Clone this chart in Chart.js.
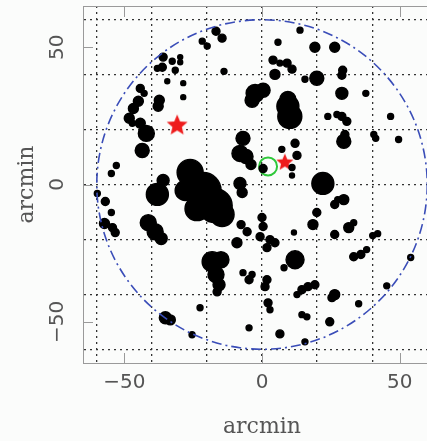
<!DOCTYPE html>
<html><head><meta charset="utf-8">
<script src="https://cdn.jsdelivr.net/npm/chart.js@4.4.0/dist/chart.umd.min.js"></script>
<style>
html,body{margin:0;padding:0;overflow:hidden;background:#fbfcfb;width:427px;height:441px}
#wrap{position:absolute;left:0;top:0;width:460px;height:441px}
</style>
</head><body><div id="wrap"><canvas id="c"></canvas></div>
<script>
// source positions (arcmin) and marker radii
const srcX = [-35.9,-32.6,-29.7,-29.7,-38.0,-36.2,-31.5,-34.4,-28.6,-28.6,-44.2,-42.8,-44.9,-37.3,-37.7,-46.7,-48.2,-47.1,-44.2,-42.0,-43.5,-52.9,-54.7,
 -16.7,-14.5,-21.7,-19.9,-13.8,5.8,13.8,19.2,26.4,4.0,6.5,9.1,10.9,4.7,15.6,19.9,29.3,29.0,29.0,37.7,29.0,30.8,23.9,27.2,46.7,29.7,30.1,40.6,41.3,49.6,
 -2.5,0.4,-3.6,9.4,9.4,10.1,-6.9,-8.0,-5.8,-4.0,0.4,7.2,12.0,12.7,10.9,10.9,22.1,-8.0,-7.2,
 -26.1,-21.4,-17.0,-14.5,-23.6,-27.9,-38.0,-35.9,
 -56.9,-59.8,-54.7,-57.2,-54.3,-53.3,-41.3,-38.8,-36.6,-7.6,-5.4,-9.1,
 -18.1,-14.9,-16.7,-15.6,-16.3,-6.9,-4.7,-3.6,-22.5,-25.4,-35.1,-33.3,-4.7,6.5,15.6,
 0.0,0.4,-0.7,2.9,4.7,1.8,11.6,12.0,8.0,1.8,1.1,14.5,16.7,19.2,12.7,26.4,25.4,2.2,2.9,14.5,16.3,24.6,
 26.4,27.5,19.9,18.5,26.4,29.7,31.5,33.3,40.2,42.0,33.3,35.9,38.0,54.0,45.3,35.1];
const srcY = [46.4,44.9,46.4,44.5,42.3,42.7,41.6,37.6,36.9,31.8,35.0,33.2,30.3,30.7,28.5,27.7,24.1,22.3,22.3,18.6,12.4,6.9,4.0,
 55.8,53.3,52.2,50.4,41.2,51.8,56.2,50.0,50.0,45.3,44.2,44.2,42.0,40.1,38.3,38.7,41.6,39.8,33.2,33.2,24.8,23.0,24.8,25.5,24.8,15.7,18.2,18.2,16.8,16.4,
 33.2,34.3,30.7,31.0,28.5,24.8,16.8,11.3,10.2,7.3,5.8,12.8,15.0,10.6,6.2,3.3,0.4,0.4,-2.9,
 4.4,-2.2,-7.7,-10.9,-8.8,-2.2,-3.6,1.5,
 -6.2,-3.3,-10.2,-14.2,-15.7,-17.5,-13.9,-17.2,-19.7,-14.6,-17.2,-21.2,
 -28.1,-27.4,-32.8,-36.5,-39.1,-32.1,-34.7,-32.8,-44.9,-54.7,-48.5,-49.3,-52.2,-54.4,-57.3,
 -12.0,-15.3,-19.0,-20.1,-21.2,-23.0,-17.5,-27.4,-30.3,-34.7,-37.2,-38.3,-37.2,-36.5,-40.1,-40.1,-41.2,-43.1,-45.6,-47.4,-48.2,-50.0,
 -7.3,-5.5,-10.2,-14.6,-18.2,-5.5,-15.7,-13.9,-18.6,-17.9,-26.3,-25.5,-23.7,-26.6,-36.9,-43.4];
const srcR = [4,3,2.5,2.5,3,4,3,2.5,2.5,2.5,4,3,5,5,5,5,5,3,5,8,7,3,3,
 4,4,3,3,3,3,3,5,5,4,3,4,4,5,3,7,4,4,6,3,4,4,3,3,3,7,4,3,3,3,
 9,7,7,8,11,12,7,8,7,5,4,3,4,4,3,2.5,11,6,5,
 13,18,17,12,12,10,11,6,
 4,3,3,5,4,4,8,8,6,4,4,5,
 10,8,8,6,4,3,4,3,3,3,6,5,3,4,3,
 4,4,4,4,4,4,2.5,9,3,4,4,4,4,4,3,5,4,4,3,3,3,4,
 4,3,4,5,4,5,5,3,3,3,4,4,3,3,3,3];
const starX = [-30.8, 8.3];
const starY = [21.5, 8.0];
const starSize = [11, 9];
const ringX = [2.2];
const ringY = [6.6];
const fieldRadius = 60;
const xTickLabels = [-50, 0, 50];
const yTickLabels = [-50, 0, 50];
const gridValues = [-60, -40, -20, 0, 20, 40, 60];

const FRAME = '#9a9a9a';
const TEXT = '#555';

function makeStar(R) {
  const c = document.createElement('canvas');
  c.width = c.height = Math.ceil(2 * R + 2);
  const g = c.getContext('2d');
  const cx = c.width / 2, cy = c.height / 2, r2 = R * 0.45;
  g.beginPath();
  for (let i = 0; i < 10; i++) {
    const a = -Math.PI / 2 + i * Math.PI / 5;
    const rr = i % 2 === 0 ? R : r2;
    g.lineTo(cx + rr * Math.cos(a), cy + rr * Math.sin(a));
  }
  g.closePath();
  g.fillStyle = '#ee1c1c';
  g.fill();
  return c;
}
const starImgs = starSize.map(makeStar);

function fmt(v) { return v < 0 ? '\u2212' + Math.abs(v) : String(v); }

const decor = {
  id: 'decor',
  afterDatasetDraw(chart, args) {
    if (args.index !== 0) return;
    const {ctx, scales: {x, y}, chartArea: a} = chart;
    const cx = x.getPixelForValue(0), cy = y.getPixelForValue(0);
    const rx = x.getPixelForValue(fieldRadius) - cx;
    const ry = cy - y.getPixelForValue(fieldRadius);
    ctx.save();
    ctx.beginPath();
    ctx.rect(a.left, a.top, a.right - a.left, a.bottom - a.top);
    ctx.clip();
    ctx.strokeStyle = '#3a4db8';
    ctx.lineWidth = 1.6;
    ctx.setLineDash([10, 4, 2, 4]);
    ctx.beginPath();
    ctx.ellipse(cx, cy, rx, ry, 0, 0, Math.PI * 2);
    ctx.stroke();
    ctx.restore();
  },
  afterDraw(chart) {
    const {ctx, scales: {x, y}, chartArea: a} = chart;
    ctx.save();
    ctx.strokeStyle = FRAME;
    ctx.lineWidth = 1;
    ctx.beginPath();
    ctx.moveTo(a.left, a.top + 0.5); ctx.lineTo(a.right, a.top + 0.5);
    ctx.moveTo(a.right - 0.5, a.top); ctx.lineTo(a.right - 0.5, a.bottom);
    xTickLabels.forEach(v => {
      const px = Math.round(x.getPixelForValue(v)) + 0.5;
      ctx.moveTo(px, a.top); ctx.lineTo(px, a.top + 11);
      ctx.moveTo(px, a.bottom); ctx.lineTo(px, a.bottom - 10);
    });
    yTickLabels.forEach(v => {
      const py = Math.round(y.getPixelForValue(v)) + 0.5;
      ctx.moveTo(a.left, py); ctx.lineTo(a.left + 10, py);
      ctx.moveTo(a.right, py); ctx.lineTo(a.right - 10, py);
    });
    ctx.stroke();
    ctx.fillStyle = TEXT;
    ctx.font = '20px "DejaVu Sans"';
    ctx.textAlign = 'center';
    ctx.textBaseline = 'middle';
    yTickLabels.forEach(v => {
      const py = y.getPixelForValue(v);
      ctx.save();
      ctx.translate(58, py);
      ctx.rotate(-Math.PI / 2);
      ctx.fillText(fmt(v), 0, 0);
      ctx.restore();
    });
    ctx.restore();
  }
};

new Chart(document.getElementById('c'), {
  type: 'bubble',
  data: {
    datasets: [
      {
        data: srcX.map((v, i) => ({x: v, y: srcY[i], r: srcR[i]})),
        backgroundColor: '#000', borderColor: '#000', borderWidth: 1.4, hoverRadius: 0
      },
      {
        type: 'scatter',
        data: starX.map((v, i) => ({x: v, y: starY[i]})),
        pointStyle: ctx => starImgs[ctx.dataIndex] || starImgs[0],
        pointRadius: 10
      },
      {
        type: 'scatter',
        data: ringX.map((v, i) => ({x: v, y: ringY[i]})),
        pointStyle: 'circle', pointRadius: 9,
        backgroundColor: 'rgba(0,0,0,0)', borderColor: '#2ec83a', borderWidth: 2
      }
    ]
  },
  options: {
    responsive: true, maintainAspectRatio: false, animation: false,
    events: [],
    layout: {autoPadding: false, padding: {top: 6, right: 19, left: 0, bottom: 0}},
    plugins: {legend: {display: false}, tooltip: {enabled: false}},
    scales: {
      x: {
        type: 'linear', min: -65, max: 65, position: 'bottom',
        afterBuildTicks: s => { s.ticks = [-60, -50, -40, -20, 0, 20, 40, 50, 60].map(v => ({value: v})); },
        afterFit: s => { s.height = 78; },
        grid: {color: c => gridValues.includes(c.tick && c.tick.value) ? '#333' : 'rgba(0,0,0,0)', lineWidth: 1.3, drawTicks: false},
        border: {display: true, color: FRAME, width: 1, dash: [2, 4]},
        ticks: {
          autoSkip: false, maxRotation: 0, padding: 8, color: TEXT,
          font: {family: 'DejaVu Sans', size: 20},
          callback: v => xTickLabels.includes(v) ? fmt(v) : ''
        },
        title: {display: true, text: 'arcmin', color: TEXT, font: {family: 'DejaVu Serif', size: 22}, padding: {top: 0, bottom: 1}}
      },
      y: {
        type: 'linear', min: -65, max: 65, position: 'left',
        afterBuildTicks: s => { s.ticks = gridValues.map(v => ({value: v})); },
        afterFit: s => { s.width = 83; },
        grid: {color: '#333', lineWidth: 1.3, drawTicks: false},
        border: {display: true, color: FRAME, width: 1, dash: [2, 4]},
        ticks: {display: false},
        title: {display: true, text: 'arcmin', color: TEXT, font: {family: 'DejaVu Serif', size: 22}, padding: {top: 14, bottom: 0}}
      }
    }
  },
  plugins: [decor]
});
</script>
</body></html>
